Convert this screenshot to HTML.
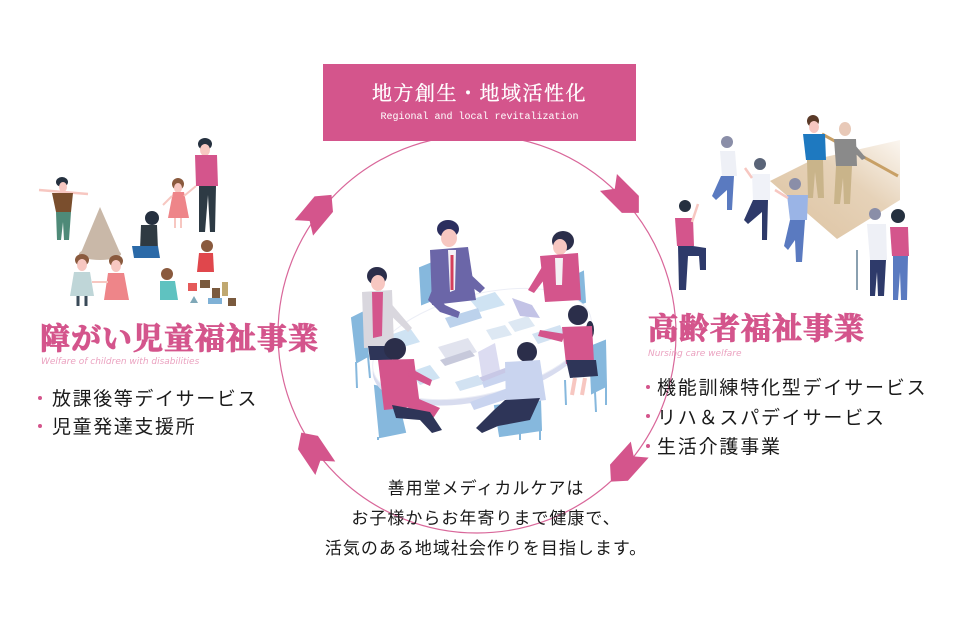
<!DOCTYPE html>
<html><head><meta charset="utf-8">
<style>
html,body{margin:0;padding:0;background:#fff;}
body{width:955px;height:621px;position:relative;overflow:hidden;}
.t{position:absolute;white-space:nowrap;}
.sans{font-family:"Liberation Sans","Noto Sans CJK JP",sans-serif;color:#1a1a1a;}
.serif{font-family:"Liberation Serif","Noto Serif CJK SC",serif;}
.dot{display:inline-block;width:4px;height:4px;border-radius:2px;background:#d4558c;vertical-align:middle;margin-right:10px;position:relative;top:-2px;}
.ttl{-webkit-text-stroke:1.1px #d4558c;}
</style></head>
<body>
<svg width="955" height="621" style="position:absolute;left:0;top:0" xmlns="http://www.w3.org/2000/svg">
<!-- circle -->
<circle cx="477" cy="334" r="199" fill="none" stroke="#d9679a" stroke-width="1.2"/>

<!-- arrows -->
<g fill="#d4558c">
<polygon transform="translate(318,211) rotate(-50)" points="-22,-12 9,-12 21,0 9,12 -22,12 -13,0"/>
<polygon transform="translate(624,198) rotate(45)" points="-22,-12 9,-12 21,0 9,12 -22,12 -13,0"/>
<polygon transform="translate(625,466) rotate(132)" points="-22,-12 9,-12 21,0 9,12 -22,12 -13,0"/>
<polygon transform="translate(313,450) rotate(-124)" points="-22,-12 9,-12 21,0 9,12 -22,12 -13,0"/>
</g>

<!-- ================= meeting illustration ================= -->
<g>
<g fill="#86b8dd" stroke="#86b8dd" stroke-width="2">
<polygon points="420,268 430,264 432,300 422,304"/>
<polygon points="575,276 583,272 585,302 577,305"/>
<polygon points="352,318 362,313 368,356 357,362"/>
<line x1="356" y1="362" x2="357" y2="388"/><line x1="368" y1="356" x2="370" y2="378"/>
<polygon points="590,347 605,341 606,386 592,393"/>
<line x1="595" y1="392" x2="596" y2="412"/><line x1="606" y1="386" x2="606" y2="405"/>
<line x1="565" y1="380" x2="566" y2="405"/>
<polygon points="375,386 395,390 405,432 380,437"/>
<line x1="378" y1="437" x2="378" y2="440"/>
<polygon points="495,406 540,400 541,430 500,436"/>
<line x1="520" y1="430" x2="520" y2="440"/><line x1="540" y1="428" x2="540" y2="440"/>
</g>
<ellipse cx="482" cy="350" rx="112" ry="50" transform="rotate(-14 482 350)" fill="#d8dcef"/>
<ellipse cx="482" cy="344" rx="112" ry="50" transform="rotate(-14 482 344)" fill="#ffffff" stroke="#eceef6" stroke-width="1"/>
<g>
<polygon points="470,300 495,292 505,305 480,312" fill="#cfe3f3"/>
<polygon points="445,318 478,308 482,318 450,328" fill="#bcd2ec"/>
<polygon points="390,335 410,328 420,342 400,348" fill="#cfe3f3"/>
<polygon points="410,372 430,365 440,378 420,385" fill="#cfe3f3"/>
<polygon points="438,347 468,338 477,352 448,362" fill="#e1e3ee"/>
<polygon points="440,360 470,350 475,356 445,366" fill="#c7c9db"/>
<polygon points="486,330 505,325 512,335 492,340" fill="#dde8f3"/>
<polygon points="508,322 528,316 535,326 515,332" fill="#dde8f3"/>
<polygon points="512,298 532,305 540,318 520,316" fill="#c3c3e6"/>
<polygon points="478,352 495,343 500,370 482,378" fill="#dcdcf1"/>
<polygon points="478,378 505,368 512,374 486,384" fill="#c8c8e6"/>
<polygon points="532,334 560,325 565,335 538,344" fill="#d2e2f2"/>
<polygon points="455,382 478,375 484,384 460,391" fill="#d2e2f2"/>
</g>
<ellipse cx="377" cy="276" rx="10" ry="9" fill="#2b2e4a"/>
<ellipse cx="378" cy="283" rx="7" ry="8" fill="#f7c7c1"/>
<polygon points="362,292 392,290 394,346 364,348" fill="#d9d7de"/>
<polygon points="372,292 383,292 382,336 373,338" fill="#d4558c"/>
<polygon points="388,300 412,328 408,332 385,310" fill="#d9d7de"/>
<polygon points="368,346 392,346 392,360 370,360" fill="#2e3558"/>
<ellipse cx="448" cy="229" rx="11" ry="9" fill="#2b2e5e"/>
<ellipse cx="449" cy="238" rx="8" ry="9" fill="#f7c7c1"/>
<polygon points="430,250 468,247 476,300 432,305" fill="#6b66a8"/>
<polygon points="448,250 456,250 455,290 450,292" fill="#f2f2f6"/>
<line x1="452" y1="255" x2="452" y2="290" stroke="#d43f5b" stroke-width="3"/>
<polygon points="432,290 445,305 460,312 458,318 440,312 428,300" fill="#6b66a8"/>
<polygon points="466,270 485,288 480,293 462,280" fill="#6b66a8"/>
<ellipse cx="563" cy="241" rx="11" ry="10" fill="#2b2e4a"/>
<ellipse cx="560" cy="247" rx="7" ry="8" fill="#f7c7c1"/>
<polygon points="540,256 578,253 581,300 545,302" fill="#d4558c"/>
<polygon points="555,258 563,258 562,285 556,285" fill="#f4f0f4"/>
<polygon points="545,262 528,290 534,293 550,272" fill="#d4558c"/>
<ellipse cx="578" cy="315" rx="10" ry="10" fill="#2b2e4a"/>
<ellipse cx="590" cy="330" rx="4" ry="9" fill="#2b2e4a"/>
<polygon points="562,327 592,326 594,362 566,364" fill="#d4558c"/>
<polygon points="565,334 540,330 538,336 562,342" fill="#d4558c"/>
<polygon points="566,360 596,360 598,376 570,378" fill="#2e3558"/>
<line x1="575" y1="378" x2="572" y2="395" stroke="#f7c7c1" stroke-width="4"/>
<line x1="585" y1="378" x2="582" y2="395" stroke="#f7c7c1" stroke-width="4"/>
<ellipse cx="395" cy="349" rx="11" ry="11" fill="#2b2e4a"/>
<polygon points="378,360 414,359 420,406 384,410" fill="#d4558c"/>
<polygon points="410,368 432,380 430,386 408,376" fill="#d4558c"/>
<polygon points="412,396 440,408 432,420 408,408" fill="#d4558c"/>
<polygon points="392,405 430,412 442,430 432,433 420,420 396,418" fill="#2e3558"/>
<ellipse cx="527" cy="352" rx="10" ry="10" fill="#2b2e4a"/>
<polygon points="505,362 540,360 546,400 506,405" fill="#c9d4ef"/>
<polygon points="507,372 482,382 484,388 508,380" fill="#c9d4ef"/>
<polygon points="508,388 470,402 474,410 510,398" fill="#c9d4ef"/>
<polygon points="505,400 540,398 530,420 498,426 482,433 476,428 494,410" fill="#2e3558"/>
</g>

<!-- ================= children illustration ================= -->
<g>
<ellipse cx="205" cy="144" rx="7" ry="6" fill="#25303f"/>
<ellipse cx="205" cy="150" rx="5" ry="6" fill="#f7c7c1"/>
<polygon points="195,155 217,155 218,186 196,186" fill="#d4558c"/>
<polygon points="199,186 216,186 215,232 210,232 208,195 205,232 199,232" fill="#2d3a44"/>
<ellipse cx="178" cy="184" rx="6" ry="6" fill="#8a5a3e"/>
<ellipse cx="178" cy="188" rx="4" ry="5" fill="#f7c7c1"/>
<polygon points="173,192 184,192 189,218 168,218" fill="#ee8589"/>
<line x1="184" y1="196" x2="196" y2="186" stroke="#f7c7c1" stroke-width="2"/>
<line x1="172" y1="196" x2="163" y2="205" stroke="#f7c7c1" stroke-width="2"/>
<line x1="175" y1="218" x2="175" y2="228" stroke="#f7c7c1" stroke-width="2"/>
<line x1="181" y1="218" x2="181" y2="228" stroke="#f7c7c1" stroke-width="2"/>
<ellipse cx="62" cy="182" rx="6" ry="5" fill="#25303f"/>
<ellipse cx="63" cy="187" rx="4" ry="5" fill="#f7c7c1"/>
<line x1="39" y1="190" x2="88" y2="194" stroke="#f7c7c1" stroke-width="2.5"/>
<polygon points="52,193 73,193 71,212 56,212" fill="#7a4e2d"/>
<polygon points="56,212 71,212 69,240 64,240 63,222 61,240 57,240" fill="#4e8a78"/>
<polygon points="100,207 121,255 80,255" fill="#c9b8a8"/>
<ellipse cx="100" cy="254" rx="21" ry="6" fill="#c9b8a8"/>
<ellipse cx="152" cy="218" rx="7" ry="7" fill="#25303f"/>
<polygon points="141,225 157,225 158,250 140,250" fill="#2f3a42"/>
<polygon points="132,246 158,246 160,258 134,258" fill="#2b6aa8"/>
<ellipse cx="82" cy="260" rx="7" ry="6" fill="#8a5a3e"/>
<ellipse cx="82" cy="265" rx="5" ry="6" fill="#f7c7c1"/>
<polygon points="74,272 90,272 94,296 70,296" fill="#bfd6d8"/>
<line x1="78" y1="296" x2="78" y2="306" stroke="#3a4a58" stroke-width="3"/>
<line x1="86" y1="296" x2="86" y2="306" stroke="#3a4a58" stroke-width="3"/>
<ellipse cx="116" cy="261" rx="7" ry="6" fill="#8a5a3e"/>
<ellipse cx="116" cy="266" rx="5" ry="6" fill="#f7c7c1"/>
<polygon points="108,273 124,273 129,300 104,300" fill="#ee8589"/>
<line x1="92" y1="282" x2="108" y2="282" stroke="#f7c7c1" stroke-width="2"/>
<ellipse cx="207" cy="246" rx="6" ry="6" fill="#8a5a3e"/>
<polygon points="199,253 213,253 214,272 197,272" fill="#e0474c"/>
<ellipse cx="167" cy="274" rx="6" ry="6" fill="#8a5a3e"/>
<polygon points="160,281 175,281 178,300 160,300" fill="#5fc2c0"/>
<rect x="188" y="283" width="9" height="8" fill="#e55a5a"/>
<rect x="200" y="280" width="10" height="8" fill="#7a5a3e"/>
<rect x="212" y="288" width="8" height="10" fill="#7a5a3e"/>
<rect x="222" y="282" width="6" height="14" fill="#c0a870"/>
<rect x="208" y="298" width="14" height="6" fill="#7fb1d6"/>
<rect x="228" y="298" width="8" height="8" fill="#7a5a3e"/>
<polygon points="190,303 194,296 198,303" fill="#7fa8b8"/>
</g>

<!-- ================= elderly illustration ================= -->
<defs>
<linearGradient id="mat" x1="0" y1="1" x2="1" y2="0">
<stop offset="0" stop-color="#dcc2a0"/><stop offset="0.6" stop-color="#e6d2b8"/><stop offset="1" stop-color="#fbf6f0"/>
</linearGradient>
</defs>
<g>
<polygon points="770,181 812,160 900,140 900,200 837,239" fill="url(#mat)"/>
<line x1="822" y1="134" x2="898" y2="176" stroke="#c8a066" stroke-width="3"/>
<ellipse cx="813" cy="121" rx="6" ry="6" fill="#5a3a28"/>
<ellipse cx="814" cy="127" rx="5" ry="6" fill="#f7c7c1"/>
<polygon points="803,134 825,134 826,160 806,160" fill="#1e79c0"/>
<polygon points="807,160 823,160 824,198 818,198 815,172 813,198 808,198" fill="#c9b48a"/>
<ellipse cx="845" cy="129" rx="6" ry="7" fill="#e8c9b8"/>
<polygon points="834,139 856,139 857,166 836,166" fill="#8a8a8a"/>
<polygon points="855,145 866,158 862,160 852,150" fill="#8a8a8a"/>
<polygon points="836,166 852,166 850,204 844,204 843,178 840,204 834,204" fill="#c9b48a"/>
<ellipse cx="727" cy="142" rx="6" ry="6" fill="#8a8ea8"/>
<polygon points="720,151 735,151 737,176 722,176" fill="#eef0f6"/>
<polygon points="721,176 734,176 732,210 727,210 727,190 716,200 712,196" fill="#5a7ac0"/>
<ellipse cx="760" cy="164" rx="6" ry="6" fill="#5a6478"/>
<polygon points="752,174 770,174 770,200 753,200" fill="#f0f2f8"/>
<line x1="752" y1="178" x2="745" y2="168" stroke="#f7c7c1" stroke-width="2.5"/>
<polygon points="753,200 768,200 767,240 762,240 762,212 748,224 744,220" fill="#2e3a6a"/>
<ellipse cx="795" cy="184" rx="6" ry="6" fill="#8a8ea8"/>
<polygon points="787,195 808,195 807,220 790,220" fill="#9ab4e6"/>
<line x1="788" y1="198" x2="775" y2="190" stroke="#f7c7c1" stroke-width="2.5"/>
<polygon points="790,220 805,220 802,262 796,262 795,240 788,250 784,246" fill="#5a7ac0"/>
<ellipse cx="685" cy="206" rx="6" ry="6" fill="#25303f"/>
<polygon points="675,218 693,218 694,246 677,246" fill="#d4558c"/>
<line x1="692" y1="222" x2="698" y2="204" stroke="#f7c7c1" stroke-width="2.5"/>
<polygon points="678,246 693,246 706,248 706,270 700,270 699,256 688,256 686,290 679,290" fill="#2e3a6a"/>
<ellipse cx="875" cy="214" rx="6" ry="6" fill="#8a8ea8"/>
<polygon points="867,224 886,224 887,260 870,260" fill="#eef0f6"/>
<polygon points="870,260 886,260 884,296 878,296 877,272 875,296 870,296" fill="#2e3a6a"/>
<line x1="857" y1="250" x2="857" y2="290" stroke="#8aa0b0" stroke-width="2"/>
<ellipse cx="898" cy="216" rx="7" ry="7" fill="#25303f"/>
<polygon points="890,227 908,227 909,256 892,256" fill="#d4558c"/>
<polygon points="893,256 908,256 907,300 901,300 900,272 898,300 893,300" fill="#5a7ac0"/>
</g>
</svg>

<!-- top box -->
<div class="t" style="left:323px;top:64px;width:313px;height:77px;background:#d4558c;"></div>
<div class="t serif" style="left:323px;top:83px;width:313px;text-align:center;font-size:20px;line-height:22px;letter-spacing:1.5px;color:#fff;-webkit-text-stroke:0.3px #fff;">地方創生・地域活性化</div>
<div class="t" style="left:323px;top:112px;width:313px;text-align:center;font-family:'Liberation Mono',monospace;font-size:10px;line-height:12px;color:#fff;">Regional and local revitalization</div>

<!-- left -->
<div class="t serif ttl" style="left:40px;top:324px;font-size:30px;line-height:32px;font-weight:700;letter-spacing:1px;color:#d4558c;">障がい児童福祉事業</div>
<div class="t" style="left:41px;top:357px;font-family:'DejaVu Sans',sans-serif;font-style:italic;font-size:9px;line-height:11px;color:#eba2c0;">Welfare of children with disabilities</div>
<div class="t sans" style="left:38px;top:386px;font-size:19px;line-height:28px;letter-spacing:1.6px;">
<div><span class="dot"></span>放課後等デイサービス</div>
<div><span class="dot"></span>児童発達支援所</div>
</div>

<!-- right -->
<div class="t serif ttl" style="left:648px;top:314px;font-size:30px;line-height:32px;font-weight:700;letter-spacing:1px;color:#d4558c;">高齢者福祉事業</div>
<div class="t" style="left:648px;top:349px;font-family:'DejaVu Sans',sans-serif;font-style:italic;font-size:9px;line-height:11px;color:#eba2c0;">Nursing care welfare</div>
<div class="t sans" style="left:646px;top:374px;font-size:19px;line-height:29.5px;letter-spacing:1.8px;">
<div><span class="dot" style="margin-right:7px"></span>機能訓練特化型デイサービス</div>
<div><span class="dot" style="margin-right:7px"></span>リハ＆スパデイサービス</div>
<div><span class="dot" style="margin-right:7px"></span>生活介護事業</div>
</div>

<!-- bottom -->
<div class="t sans" style="left:286px;top:474px;width:400px;text-align:center;font-size:17px;line-height:30px;letter-spacing:1px;">
<div>善用堂メディカルケアは</div>
<div>お子様からお年寄りまで健康で、</div>
<div>活気のある地域社会作りを目指します。</div>
</div>
</body></html>
